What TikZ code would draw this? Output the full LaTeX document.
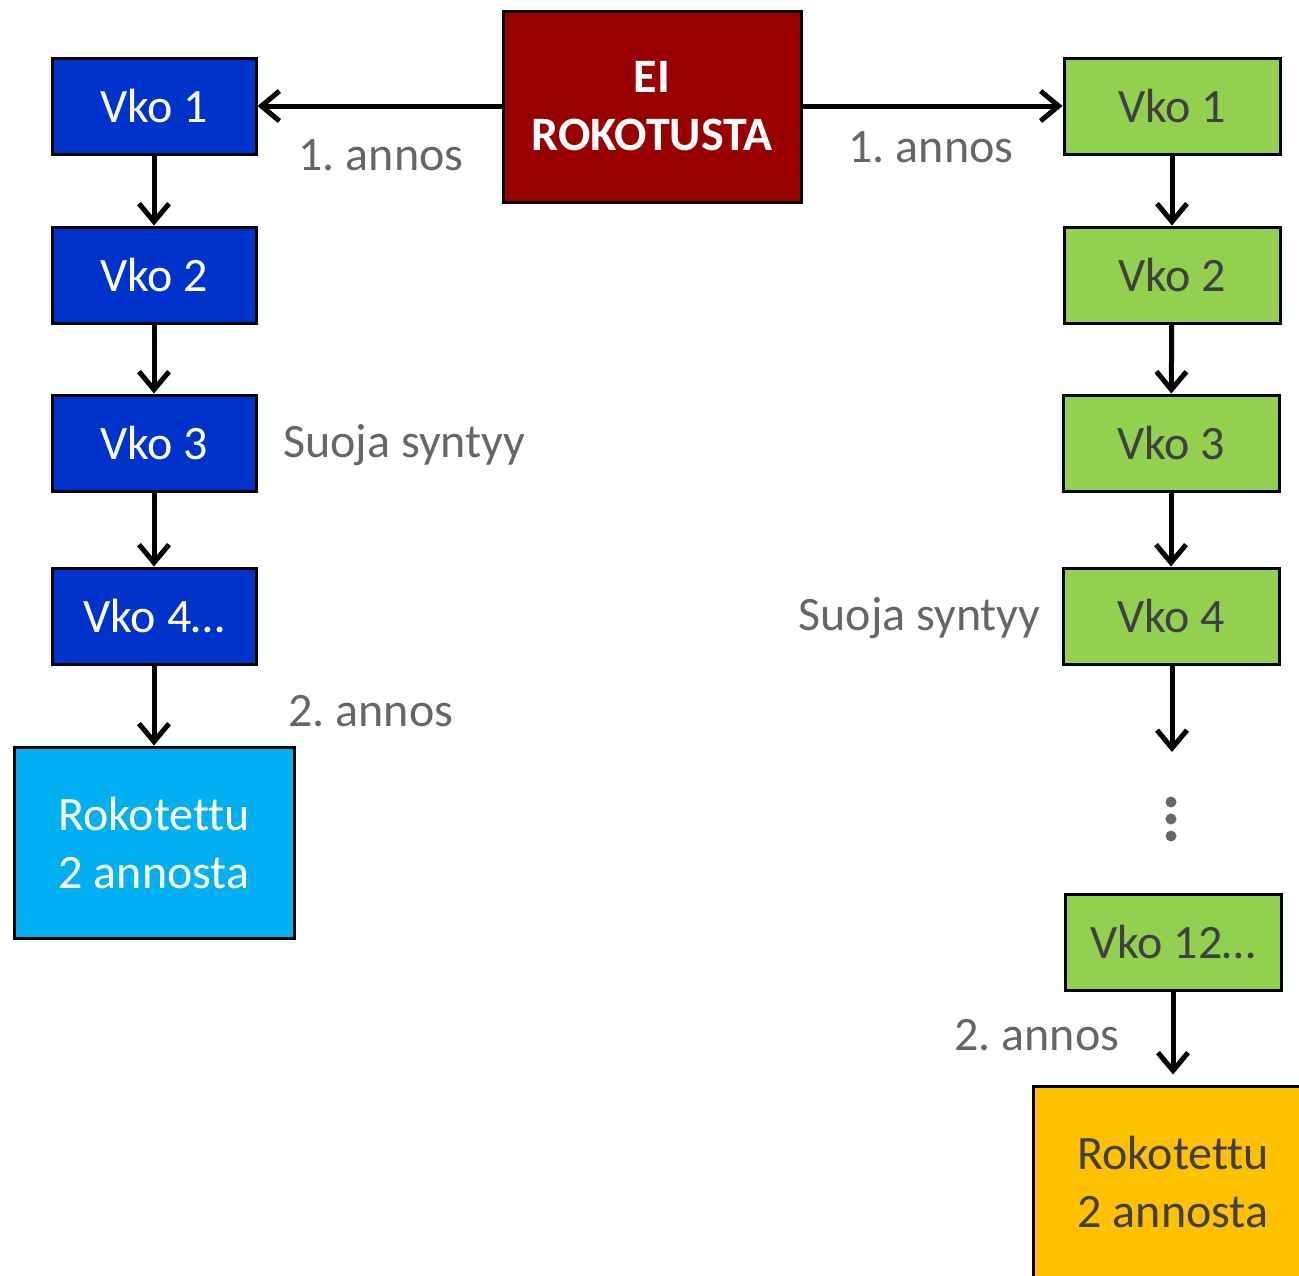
\documentclass[tikz,border=0pt]{standalone}
\usepackage{fontspec}
\setmainfont[Ligatures=NoCommon]{Carlito}
\usetikzlibrary{arrows.meta}
\definecolor{eired}{HTML}{990000}
\definecolor{lblue}{HTML}{0033CC}
\definecolor{cyanb}{HTML}{00B0F0}
\definecolor{lgreen}{HTML}{92D050}
\definecolor{orng}{HTML}{FFC000}
\definecolor{lblgray}{HTML}{666666}
\definecolor{dtext}{HTML}{404040}
\frenchspacing
\begin{document}
\begin{tikzpicture}[x=0.5pt,y=-0.5pt,
  box/.style={draw=black,line width=1.5pt,inner sep=0pt,align=center,
    font=\fontsize{24}{29}\selectfont},
  wk/.style={box,minimum width=102pt,minimum height=48pt},
  bluebox/.style={wk,fill=lblue,text=white},
  greenbox/.style={wk,minimum width=108pt,fill=lgreen,text=dtext},
  lbl/.style={text=lblgray,font=\fontsize{24}{29}\selectfont,inner sep=0pt},
  arr/.style={line width=2.5pt,-{Straight Barb[length=9pt,width=15pt,line width=2.5pt]}}
]
\useasboundingbox (0,0) rectangle (1299,1275);
% centre node
\node[box,fill=eired,text=white,font=\bfseries\fontsize{24}{29}\selectfont,
  minimum width=149pt,minimum height=95.5pt,align=center] (ei) at (652,106.5)
  {EI\\ROKOTUSTA};
% left column
\node[bluebox] (l1) at (154,106) {Vko 1};
\node[bluebox] (l2) at (154,275) {Vko 2};
\node[bluebox] (l3) at (154,443) {Vko 3};
\node[bluebox] (l4) at (154,616) {Vko 4…};
\node[box,fill=cyanb,text=white,minimum width=140pt,minimum height=95.5pt] (lr) at (154,842.5)
  {Rokotettu\\2 annosta};
% right column
\node[greenbox] (r1) at (1172,106) {Vko 1};
\node[greenbox] (r2) at (1172,275) {Vko 2};
\node[greenbox] (r3) at (1171,443) {Vko 3};
\node[greenbox] (r4) at (1171,616) {Vko 4};
\node[greenbox] (r12) at (1173,942) {Vko 12…};
\node[box,fill=orng,text=dtext,minimum width=140pt,minimum height=95.5pt] (rr) at (1173,1181.5)
  {Rokotettu\\2 annosta};
\coordinate (r4end) at (1172,752);
% labels
\node[lbl] (la1) at (381,155) {1. annos};
\node[lbl] (ra1) at (931,147) {1. annos};
\node[lbl,anchor=west] (ls) at (283,445) {Suoja syntyy};
\node[lbl,anchor=east] (rs) at (1041,618) {Suoja syntyy};
\node[lbl,anchor=west] (la2) at (288,711) {2. annos};
\node[lbl,anchor=west] (ra2) at (954,1035) {2. annos};
% dots
\fill[lblgray] (1171,802) circle (5.5) (1171,819) circle (5.5) (1171,836) circle (5.5);
% connectors
\draw[arr] (ei.west |- l1) -- (l1.east);
\draw[arr] (ei.east |- r1) -- (r1.west);
\draw[arr] (l1) -- (l2);
\draw[arr] (l2) -- (l3);
\draw[arr] (l3) -- (l4);
\draw[arr] (l4) -- (lr);
\draw[arr] (r1) -- (r2);
\draw[arr] (r2) -- (r3);
\draw[arr] (r3) -- (r4);
\draw[arr] (r4.south -| r4end) -- (r4end);
\draw[arr,shorten >=5pt] (r12) -- (r12 |- rr.north);
\end{tikzpicture}
\end{document}
